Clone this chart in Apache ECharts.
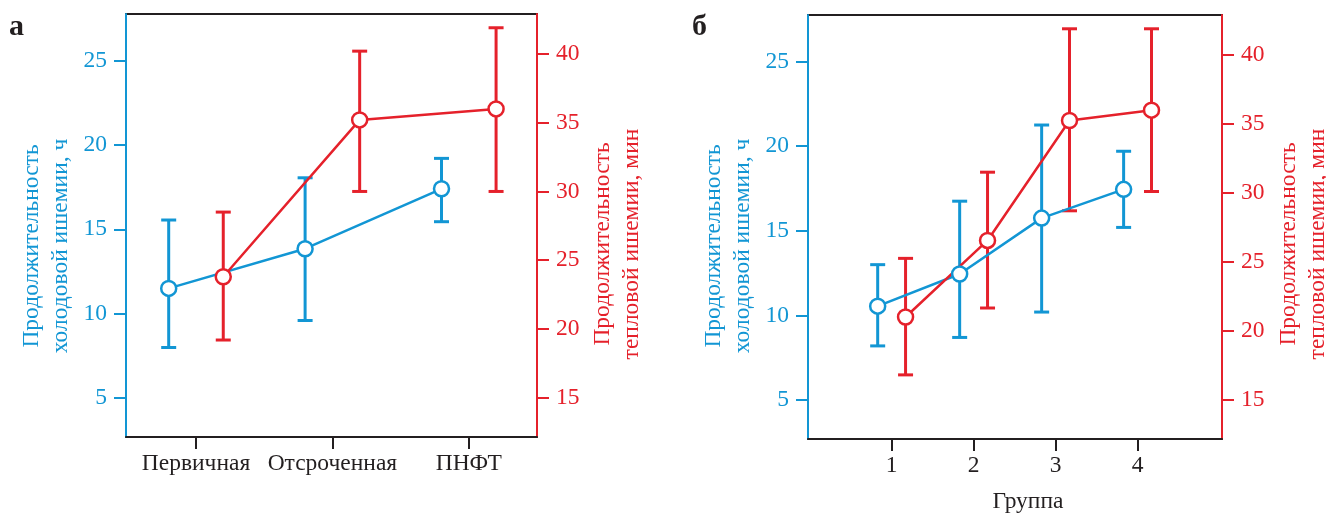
<!DOCTYPE html>
<html>
<head>
<meta charset="utf-8">
<script src="https://cdn.jsdelivr.net/npm/echarts@6/dist/echarts.min.js"></script>
<style>
  html, body { margin: 0; padding: 0; background: #fff; }
  #chart { width: 1326px; height: 514px; }
</style>
</head>
<body>
<div id="chart"></div>
<script>
// панель а
var catsA = ['Первичная', 'Отсроченная', 'ПНФТ'];
var coldMeanA = [11.5, 13.85, 17.4];
var coldLowA = [8.0, 9.6, 15.45];
var coldHighA = [15.55, 18.05, 19.2];
var heatMeanA = [23.8, 35.2, 36.0];
var heatLowA = [19.2, 30.0, 30.0];
var heatHighA = [28.5, 40.2, 41.9];

// панель б
var groupsB = ['1', '2', '3', '4'];
var coldMeanB = [10.55, 12.45, 15.75, 17.45];
var coldLowB = [8.2, 8.7, 10.2, 15.2];
var coldHighB = [13.0, 16.75, 21.25, 19.7];
var heatMeanB = [21.0, 26.55, 35.25, 36.0];
var heatLowB = [16.8, 21.65, 28.7, 30.1];
var heatHighB = [25.25, 31.5, 41.9, 41.9];

var coldTicks = [5, 10, 15, 20, 25];
var heatTicks = [15, 20, 25, 30, 35, 40];

var BLUE = '#1296d4';
var RED = '#e5212b';
var BLACK = '#231f20';
var FONT = '"Liberation Serif", "DejaVu Serif", serif';
var FS = 23.5;

function pts(means, off) {
  return means.map(function (v, i) { return [i + 1 + off, v]; });
}
function bars(low, high, off) {
  return low.map(function (v, i) { return [i + 1 + off, v, high[i]]; });
}

function errorSeries(data, color, xi, yi) {
  return {
    type: 'custom',
    xAxisIndex: xi,
    yAxisIndex: yi,
    z: 2,
    encode: { x: 0, y: [1, 2] },
    data: data,
    renderItem: function (params, api) {
      var x = api.value(0);
      var lo = api.coord([x, api.value(1)]);
      var hi = api.coord([x, api.value(2)]);
      var w = 7.5;
      var st = { stroke: color, lineWidth: 3 };
      return {
        type: 'group',
        children: [
          { type: 'line', shape: { x1: lo[0], y1: lo[1], x2: hi[0], y2: hi[1] }, style: st },
          { type: 'line', shape: { x1: hi[0] - w, y1: hi[1], x2: hi[0] + w, y2: hi[1] }, style: st },
          { type: 'line', shape: { x1: lo[0] - w, y1: lo[1], x2: lo[0] + w, y2: lo[1] }, style: st }
        ]
      };
    }
  };
}

function lineSeries(data, color, xi, yi) {
  return {
    type: 'line',
    xAxisIndex: xi,
    yAxisIndex: yi,
    z: 3,
    data: data,
    symbol: 'circle',
    symbolSize: 15,
    lineStyle: { color: color, width: 2.5 },
    itemStyle: { color: '#fff', borderColor: color, borderWidth: 2.5 },
    animation: false
  };
}

function yAx(gi, pos, min, max, ticks, color) {
  return {
    type: 'value',
    gridIndex: gi,
    position: pos,
    min: min,
    max: max,
    splitLine: { show: false },
    axisLine: { show: true, onZero: false, lineStyle: { color: color, width: 2 } },
    axisTick: { show: true, length: 12, lineStyle: { color: color, width: 2 }, customValues: ticks },
    axisLabel: { color: color, fontFamily: FONT, fontSize: FS, margin: 19, customValues: ticks }
  };
}

function xAx(gi, min, max, labels) {
  var vals = labels.map(function (c, i) { return i + 1; });
  return {
    type: 'value',
    gridIndex: gi,
    min: min,
    max: max,
    splitLine: { show: false },
    axisLine: { show: true, onZero: false, lineStyle: { color: BLACK, width: 2 } },
    axisTick: { show: true, length: 12, lineStyle: { color: BLACK, width: 2 }, customValues: vals },
    axisLabel: {
      color: BLACK, fontFamily: FONT, fontSize: FS, margin: 15, customValues: vals,
      formatter: function (v) { return labels[Math.round(v) - 1]; }
    }
  };
}

function title(x, y, l1, l2, color) {
  return {
    type: 'text',
    x: x, y: y,
    rotation: Math.PI / 2,
    style: {
      text: l1 + '\n' + l2,
      fill: color,
      font: FS + 'px ' + FONT,
      lineHeight: 29,
      align: 'center',
      verticalAlign: 'middle'
    }
  };
}

var chart = echarts.init(document.getElementById('chart'));
chart.setOption({
  animation: false,
  backgroundColor: '#fff',
  grid: [
    { left: 126, top: 14, width: 411, height: 423, show: true, borderColor: BLACK, borderWidth: 2, backgroundColor: 'transparent' },
    { left: 808, top: 15, width: 414, height: 424, show: true, borderColor: BLACK, borderWidth: 2, backgroundColor: 'transparent' }
  ],
  xAxis: [
    xAx(0, 0.487, 3.5, catsA),
    xAx(1, -0.02, 5.03, groupsB)
  ],
  yAxis: [
    yAx(0, 'left', 2.7, 27.75, coldTicks, BLUE),
    yAx(0, 'right', 12.15, 42.9, heatTicks, RED),
    yAx(1, 'left', 2.7, 27.75, coldTicks, BLUE),
    yAx(1, 'right', 12.15, 42.9, heatTicks, RED)
  ],
  series: [
    errorSeries(bars(coldLowA, coldHighA, -0.2), BLUE, 0, 0),
    errorSeries(bars(heatLowA, heatHighA, 0.2), RED, 0, 1),
    lineSeries(pts(coldMeanA, -0.2), BLUE, 0, 0),
    lineSeries(pts(heatMeanA, 0.2), RED, 0, 1),
    errorSeries(bars(coldLowB, coldHighB, -0.17), BLUE, 1, 2),
    errorSeries(bars(heatLowB, heatHighB, 0.17), RED, 1, 3),
    lineSeries(pts(coldMeanB, -0.17), BLUE, 1, 2),
    lineSeries(pts(heatMeanB, 0.17), RED, 1, 3)
  ],
  graphic: [
    { type: 'text', x: 9, y: 12, style: { text: 'а', fill: BLACK, font: 'bold 30px ' + FONT } },
    { type: 'text', x: 692, y: 12, style: { text: 'б', fill: BLACK, font: 'bold 30px ' + FONT } },
    title(46, 246, 'Продолжительность', 'холодовой ишемии, ч', BLUE),
    title(617, 244, 'Продолжительность', 'тепловой ишемии, мин', RED),
    title(728, 246, 'Продолжительность', 'холодовой ишемии, ч', BLUE),
    title(1303, 244, 'Продолжительность', 'тепловой ишемии, мин', RED),
    { type: 'text', x: 1028, y: 502, style: { text: 'Группа', fill: BLACK, font: FS + 'px ' + FONT, align: 'center', verticalAlign: 'middle' } }
  ]
});
</script>
</body>
</html>
